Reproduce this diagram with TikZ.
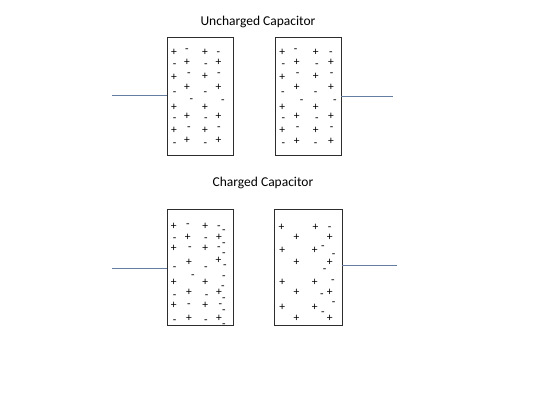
\documentclass[tikz,border=0pt]{standalone}
\usepackage{fontspec}
\setmainfont{Carlito}
\begin{document}
\begin{tikzpicture}[x=1pt,y=-1pt,
  box/.style={draw={rgb,255:red,45;green,45;blue,45}, line width=0.9pt, inner sep=0pt, outer sep=0pt},
  wire/.style={draw={rgb,255:red,100;green,125;blue,160}, line width=1pt},
  sg/.style={inner sep=0pt, anchor=base, yshift=-3.3pt, font=\fontsize{11.5}{12}\selectfont},
  ttl/.style={inner sep=0pt, font=\fontsize{13.5}{14}\selectfont}]
\useasboundingbox (0,0) rectangle (540,405);
% titles
\node[ttl] (t1) at (258,22) {Uncharged Capacitor};
\node[ttl] (t2) at (263,183) {Charged Capacitor};
% boxes
\node[box, minimum width=66pt, minimum height=118pt] (ul) at (200,96) {};
\node[box, minimum width=66pt, minimum height=118pt] (ur) at (308,96) {};
\node[box, minimum width=66pt, minimum height=116pt] (ll) at (200,267) {};
\node[box, minimum width=68pt, minimum height=116pt] (lr) at (308,267) {};
% wires
\coordinate (w1) at (112,95);
\coordinate (w2) at (393,96);
\coordinate (w3) at (112,268);
\coordinate (w4) at (397,265);
\draw[wire] (w1) -- (w1 -| ul.west);
\draw[wire] (w2 -| ur.east) -- (w2);
\draw[wire] (w3) -- (w3 -| ll.west);
\draw[wire] (w4 -| lr.east) -- (w4);
% upper left signs
\foreach \x/\y/\s [count=\i] in {
 174/52/+, 187/49.6/-, 205/52/+, 218.5/52/-,
 174.6/64.3/-, 187/61.7/+, 206/64.3/-, 218.5/62.4/+,
 174/77.2/+, 189/73.5/-, 205/76.6/+, 219/73.5/-,
 174.6/92/-, 187/87/+, 205.5/92/-, 218.5/87/+,
 191.4/99.6/-, 223/100/-,
 174/107/+, 205/107/+,
 174.6/118.6/-, 187/116/+, 206/118.6/-, 218.5/116/+,
 174/130.6/+, 189/127.3/-, 205/130.6/+, 219/127.3/-,
 174.6/142.7/-, 187/140/+, 205.5/142.7/-, 218.5/140/+}
 \node[sg] (ua\i) at (\x,\y) {\s};
% upper right signs
\foreach \x/\y/\s [count=\i] in {
 282.3/52/+, 295.7/49.6/-, 315.7/52/+, 331/52/-,
 283.3/64.3/-, 296.7/61.7/+, 317/64.3/-, 331/62.4/+,
 282.3/77.2/+, 297.7/73.5/-, 315.7/76.6/+, 331.7/73.5/-,
 282.8/92/-, 296.7/87/+, 315.7/92/-, 331/87/+,
 301.7/100/-, 335/100/-,
 282.3/107/+, 315.7/107/+,
 283.3/118.6/-, 296.7/116/+, 317/118.6/-, 331/116/+,
 282.3/130.6/+, 297.7/127.3/-, 315.7/130.6/+, 331.7/127.3/-,
 283.3/143.5/-, 296.7/141/+, 315.7/143.5/-, 331/141/+}
 \node[sg] (ub\i) at (\x,\y) {\s};
% lower left signs
\foreach \x/\y/\s [count=\i] in {
 173.7/225.7/+, 187.8/224.3/-, 205.2/225.7/+, 219/225.7/-,
 174.6/238.3/-, 187.8/236.7/+, 206/238.3/-, 219/236.7/+,
 173.7/248.3/+, 190/247.3/-, 205.2/248.3/+, 219/247.3/-,
 174.6/266.7/-, 189/261.7/+, 206/266.7/-, 218.5/260/+,
 193/275/-, 224/276/-,
 173.7/282.3/+, 205.2/282.3/+,
 174.6/295/-, 189/292/+, 206.7/295/-, 219/292/+,
 173.7/305/+, 189/304/-, 205.2/305/+, 220.5/304/-,
 174.6/320/-, 189/318.3/+, 206/320/-, 219/318.3/+,
 224/230/-, 224/243/-, 224/253.5/-, 225/265/-,
 223/286/-, 224/298/-, 224/310/-, 224/324/-}
 \node[sg] (la\i) at (\x,\y) {\s};
% lower right signs
\foreach \x/\y/\s [count=\i] in {
 281.5/226.7/+, 315.5/226.7/+, 329.7/227.3/-,
 296.6/236.7/+, 329.7/237.3/+,
 323/245.7/-,
 282.3/250/+, 314.8/250/+, 333.7/254.3/-,
 296.6/261.7/+, 329.7/261.7/+, 324.7/269/-,
 333/280/-,
 282.3/281.7/+, 314.8/281.7/+,
 296.6/292.3/+, 322/293.7/-, 329.7/292.3/+,
 333.7/302.3/-,
 282.3/306.7/+, 314.8/306.7/+, 323/311.7/-,
 296.6/317.7/+, 329.7/317.7/+}
 \node[sg] (lb\i) at (\x,\y) {\s};
\end{tikzpicture}
\end{document}
